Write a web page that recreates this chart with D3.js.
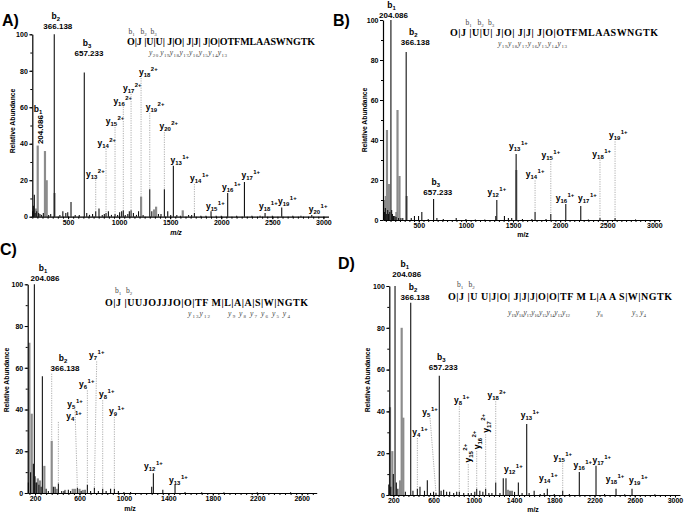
<!DOCTYPE html>
<html><head><meta charset="utf-8">
<script src="https://cdn.jsdelivr.net/npm/d3@7/dist/d3.min.js"></script>
<style>
body{margin:0;background:#fff}
svg{display:block}
.tick text{font-family:'Liberation Sans',Arial,sans-serif;font-weight:bold;font-size:7px}
</style>
</head><body>
<svg id="c" width="685" height="513"></svg>
<script>
// ---------------- DATA ----------------
const panelLabels = ["A)", "B)", "C)", "D)"];
const yTicks = [0, 20, 40, 60, 80, 100];
const xTicksAB = [500, 1000, 1500, 2000, 2500, 3000];
const xTicksC = [200, 600, 1000, 1400, 1800, 2200, 2600];
const xTicksD = [200, 600, 1000, 1400, 1800, 2200, 2600, 3000];
const yTitle = "Relative Abundance";
const xTitle = "m/z";

// sequences
const seqA = "O|J |U|U| J|O| J|J| J|O|OTFMLAASWNGTK";
const seqB = "O|J |U|U| J|O| J|J| J|O|OTFMLAASWNGTK";
const seqC = "O|J |UUJOJJJO|O|TF M|L|A|A|S|W|NGTK";
const seqD = "O|J |U U|J|O| J|J|J|O|O|TF M L|A A S|W|NGTK";
const seqBionsA = ["1", "2", "3"];
const seqBionsB = ["1", "2", "3"];
const seqBionsC = ["1", "2"];
const seqBionsD = ["1", "2"];
const seqYionsA = ["y20 y19y18y17y16y15y14y13"];
const seqYionsB = ["y19y18y17y16y15y14y13"];
const seqYionsC = ["y13y12", "y9 y8 y7 y6 y5 y4"];
const seqYionsD = ["y19y18y17y16y15y14y13y12", "y8", "y5 y4"];

// peaks [m/z, relative abundance]
const grayA = [[186,4.5],[203,39],[274,36],[291,20],[368,13],[1215,11],[1342,4],[1362,5.5],[1623,3.5]];
const blackA = [[155,3],[160,6],[170,12],[178,2],[193,3],[212,2],[225,1.5],[240,1],[258,2],[310,1],[330,1.5],[365,100],[420,1],[449,3],[478,2],[497,2.5],[529,8],[570,1],[610,1],[659,79],[683,2],[710,1],[740,1.5],[771,3],[803,4.5],[835,1],[855,1.5],[872,2],[895,3],[925,1],[960,1.5],[985,1],[1005,2.5],[1025,3],[1041,3.5],[1060,1],[1085,1.5],[1100,3],[1117,3.5],[1140,2],[1170,1],[1190,3],[1235,1],[1300,15],[1320,3],[1385,1.5],[1410,1.5],[1443,15],[1476,3],[1505,1],[1531,28],[1565,1],[1600,0.5],[1680,1],[1710,1],[1737,2],[1800,0.5],[1850,0.5],[1900,3],[1950,0.5],[2000,0.5],[2063,13],[2150,0.5],[2227,19],[2300,0.5],[2380,0.5],[2429,2],[2500,0.5],[2592,5],[2700,0.5],[2780,0.5],[2886,1]];

const grayB = [[140,10],[150,12],[162,45],[183,18],[262,4],[274,55],[295,22],[372,12],[1535,25]];
const blackB = [[135,4],[145,6],[155,3],[170,5],[178,3],[192,4],[204,100],[212,5],[220,3],[232,2],[245,2],[258,1.5],[285,1],[310,1],[330,1],[366,84],[420,1],[454,2],[497,2],[532,4],[600,0.5],[657,10.5],[692,1],[760,0.5],[897,1],[1000,0.5],[1100,0.3],[1200,0.3],[1317,2],[1328,10],[1409,2],[1451,1],[1486,1],[1533,33],[1600,0.5],[1700,0.5],[1734,4],[1850,0.5],[1901,3],[2060,8],[2219,7],[2300,0.3],[2423,1],[2583,1],[2800,0.3]];

const grayC = [[149,72],[170,38],[209,5],[225,7],[245,6],[284,13],[350,25],[395,2],[470,1.5],[540,2],[560,2],[600,2],[630,1.5]];
const blackC = [[140,5],[160,10],[185,14],[194,100],[200,8],[215,5],[235,4],[255,3],[266,56],[300,2],[320,1],[365,3],[380,3],[410,4.5],[440,1],[460,1],[500,1.5],[520,1],[581,2.5],[615,1],[650,1.5],[671,4],[700,1],[734,2.5],[770,1],[809,2],[840,1],[880,2],[914,2],[950,1],[1000,0.5],[1060,0.5],[1250,3],[1265,9.5],[1350,1.5],[1460,4],[1550,0.5],[1700,0.3],[1900,0.3],[2200,0.3],[2500,0.3]];

const grayD = [[167,42],[190,21],[267,7],[283,80],[299,37],[1340,2.5]];
const blackD = [[155,5],[175,4],[200,10],[217,100],[230,6],[245,3],[320,1.5],[373,92],[395,2],[439,3],[465,4],[510,2],[538,7],[570,1],[600,1.5],[624,1],[657,57],[675,2],[700,2.5],[730,1.5],[760,1.5],[800,1],[830,1.5],[856,1.5],[900,1],[945,1],[975,1],[1010,1.5],[1029,3],[1060,2],[1090,1.5],[1118,3],[1150,1],[1180,1],[1218,6],[1260,1],[1293,8],[1320,8],[1360,2],[1380,2],[1405,1.5],[1443,6],[1480,1],[1526,34],[1550,1],[1600,2],[1660,0.5],[1700,1],[1731,3],[1800,0.5],[1884,2],[1950,0.5],[2049,11],[2215,14],[2300,0.5],[2414,3],[2500,0.3],[2573,3],[2800,0.3]];

// fragment annotations: ion, index, charge / mass, peak m/z, label m/z, label abundance
const annA = [
 {t:"b",n:"1",m:"204.086",mz:203,lx:225,ly:57.6,rot:true},
 {t:"b",n:"2",m:"366.138",mz:365,lx:400,ly:108.5},
 {t:"b",n:"3",m:"657.233",mz:659,lx:705,ly:93.6},
 {t:"y",n:"13",z:"2+",mz:771,lx:767,ly:22,dot:true},
 {t:"y",n:"14",z:"2+",mz:872,lx:879,ly:39,dot:true},
 {t:"y",n:"15",z:"2+",mz:960,lx:960,ly:50.8,dot:true},
 {t:"y",n:"16",z:"2+",mz:1041,lx:1035,ly:62,dot:true},
 {t:"y",n:"17",z:"2+",mz:1117,lx:1129,ly:69,dot:true},
 {t:"y",n:"18",z:"2+",mz:1215,lx:1286,ly:77.7,dot:true},
 {t:"y",n:"19",z:"2+",mz:1300,lx:1352,ly:58.5,dot:true},
 {t:"y",n:"20",z:"2+",mz:1443,lx:1486,ly:48,dot:true},
 {t:"y",n:"13",z:"1+",mz:1531,lx:1594,ly:29.6},
 {t:"y",n:"14",z:"1+",mz:1737,lx:1786,ly:19.6,dot:true},
 {t:"y",n:"15",z:"1+",mz:1900,lx:1942,ly:4},
 {t:"y",n:"16",z:"1+",mz:2063,lx:2099,ly:14.5},
 {t:"y",n:"17",z:"1+",mz:2227,lx:2289,ly:21},
 {t:"y",n:"18",z:"1+",mz:2429,lx:2461,ly:4},
 {t:"y",n:"19",z:"1+",mz:2592,lx:2647,ly:6.8},
 {t:"y",n:"20",z:"1+",mz:2886,lx:2948,ly:2.5}
];
const annB = [
 {t:"b",n:"1",m:"204.086",mz:204,lx:232,ly:106},
 {t:"b",n:"2",m:"366.138",mz:366,lx:462,ly:92.5},
 {t:"b",n:"3",m:"657.233",mz:657,lx:702,ly:17.5},
 {t:"y",n:"12",z:"1+",mz:1328,lx:1328,ly:12.5},
 {t:"y",n:"13",z:"1+",mz:1533,lx:1557,ly:35.5},
 {t:"y",n:"14",z:"1+",mz:1734,lx:1734,ly:21.3,dot:true},
 {t:"y",n:"15",z:"1+",mz:1901,lx:1901,ly:30.8,dot:true},
 {t:"y",n:"16",z:"1+",mz:2060,lx:2052,ly:9.5},
 {t:"y",n:"17",z:"1+",mz:2219,lx:2289,ly:9.5},
 {t:"y",n:"18",z:"1+",mz:2423,lx:2441,ly:31.7,dot:true},
 {t:"y",n:"19",z:"1+",mz:2583,lx:2617,ly:40.8,dot:true}
];
const annC = [
 {t:"b",n:"1",m:"204.086",mz:194,lx:290,ly:106.5},
 {t:"b",n:"2",m:"366.138",mz:350,lx:470,ly:63.4,dot:true},
 {t:"y",n:"4",z:"1+",mz:410,lx:551,ly:35.5,dot:true},
 {t:"y",n:"5",z:"1+",mz:581,lx:560,ly:41.4,dot:true,slant:true},
 {t:"y",n:"6",z:"1+",mz:671,lx:665,ly:50.6,dot:true},
 {t:"y",n:"7",z:"1+",mz:734,lx:755,ly:64.5,dot:true,slant:true},
 {t:"y",n:"8",z:"1+",mz:809,lx:845,ly:45.9,dot:true},
 {t:"y",n:"9",z:"1+",mz:914,lx:935,ly:37.9,dot:true},
 {t:"y",n:"12",z:"1+",mz:1265,lx:1265,ly:11.5},
 {t:"y",n:"13",z:"1+",mz:1460,lx:1490,ly:5}
];
const annD = [
 {t:"b",n:"1",m:"204.086",mz:217,lx:333,ly:108.9},
 {t:"b",n:"2",m:"366.138",mz:373,lx:416,ly:98},
 {t:"b",n:"3",m:"657.233",mz:657,lx:697,ly:64.6},
 {t:"y",n:"4",z:"1+",mz:439,lx:465,ly:28.7,dot:true},
 {t:"y",n:"5",z:"1+",mz:624,lx:565,ly:38.3,dot:true,slant:true},
 {t:"y",n:"8",z:"1+",mz:856,lx:880,ly:43.9,dot:true},
 {t:"y",n:"15",z:"2+",mz:945,lx:945,ly:20,dot:true,rot:true},
 {t:"y",n:"16",z:"2+",mz:1029,lx:1029,ly:26.3,dot:true,rot:true},
 {t:"y",n:"17",z:"2+",mz:1118,lx:1118,ly:34.3,dot:true,rot:true},
 {t:"y",n:"18",z:"2+",mz:1218,lx:1228,ly:46.3,dot:true},
 {t:"y",n:"12",z:"1+",mz:1320,lx:1393,ly:11.2},
 {t:"y",n:"13",z:"1+",mz:1526,lx:1559,ly:36.7},
 {t:"y",n:"14",z:"1+",mz:1731,lx:1741,ly:6.7},
 {t:"y",n:"15",z:"1+",mz:1884,lx:1884,ly:16.7,dot:true},
 {t:"y",n:"16",z:"1+",mz:2049,lx:2083,ly:12.8},
 {t:"y",n:"17",z:"1+",mz:2215,lx:2272,ly:15.5},
 {t:"y",n:"18",z:"1+",mz:2414,lx:2404,ly:6.4},
 {t:"y",n:"19",z:"1+",mz:2573,lx:2636,ly:5.9}
];

// ---------------- DRAWING ----------------
const SANS = "'Liberation Sans', Arial, sans-serif";
const SERIF = "'Liberation Serif', 'Times New Roman', serif";
const svg = d3.select("#c");

const panels = [
 {lab:panelLabels[0], labPos:[2,26], gray:grayA, black:blackA, ann:annA, xd:[150,3050], xr:[32.3,328.5], yr:[216.7,34.3], xt:xTicksAB, minor:50,
  yTitle:[13,121], xTitlePos:[176,235], italic:true,
  seq:{s:seqA, x0:127, x1:315, y:45, fs:10, b:seqBionsA, bx:[131.5,143.5,153.5], by:34, yi:seqYionsA, yr:[[149,227]], yy:55}},
 {lab:panelLabels[1], labPos:[333,26], gray:grayB, black:blackB, ann:annB, xd:[120,3060], xr:[383,660], yr:[220,20], xt:xTicksAB, minor:50,
  yTitle:[365,120], xTitlePos:[523,237], italic:false,
  seq:{s:seqB, x0:450, x1:658, y:36, fs:10, b:seqBionsB, bx:[468.5,480.5,491], by:25, yi:seqYionsB, yr:[[498,567]], yy:46}},
 {lab:panelLabels[2], labPos:[0,255], gray:grayC, black:blackC, ann:annC, xd:[134,2735], xr:[27.7,316.7], yr:[493,284.3], xt:xTicksC, minor:50,
  yTitle:[7,380], xTitlePos:[130,510.5], italic:false,
  seq:{s:seqC, x0:105, x1:308, y:306, fs:10, b:seqBionsC, bx:[118,129], by:293, yi:seqYionsC, yr:[[188,210],[228,290]], yy:316}},
 {lab:panelLabels[3], labPos:[338,269], gray:grayD, black:blackD, ann:annD, xd:[160,3050], xr:[389.3,680], yr:[495,286], xt:xTicksD, minor:50,
  yTitle:[368,380], xTitlePos:[533,511.5], italic:false,
  seq:{s:seqD, x0:448, x1:672, y:300, fs:10, b:seqBionsD, bx:[460,471.5], by:287, yi:seqYionsD, yr:[[508,570],[597,604],[632,646]], yy:315}}
];

function ionText(sel, a, fs) {
  sel.append("tspan").text(a.t);
  sel.append("tspan").attr("dy", 2).attr("font-size", fs*0.7).text(a.n);
  if (a.z) sel.append("tspan").attr("dy", -6).attr("dx", 0.5).attr("font-size", fs*0.7).text(a.z);
}

panels.forEach(p => {
  const g = svg.append("g");
  const x = d3.scaleLinear().domain(p.xd).range(p.xr);
  const y = d3.scaleLinear().domain([0,100]).range(p.yr);
  const all = p.gray.concat(p.black);
  const nearest = mz => all.reduce((b, d) => Math.abs(d[0]-mz) < Math.abs(b[0]-mz) ? d : b);

  // panel label
  g.append("text").attr("x", p.labPos[0]).attr("y", p.labPos[1])
    .attr("font-family", SANS).attr("font-weight","bold").attr("font-size",16).text(p.lab);

  // peaks
  g.selectAll(".gp").data(p.gray).join("line")
    .attr("x1", d=>x(d[0])).attr("x2", d=>x(d[0])).attr("y1", y(0)).attr("y2", d=>y(d[1]))
    .attr("stroke","#8c8c8c").attr("stroke-width",2.2);
  g.selectAll(".bp").data(p.black).join("line")
    .attr("x1", d=>x(d[0])).attr("x2", d=>x(d[0])).attr("y1", y(0)).attr("y2", d=>y(d[1]))
    .attr("stroke","#111").attr("stroke-width",1.1);

  // axes
  const minorVals = d3.range(Math.ceil(p.xd[0]/p.minor)*p.minor, p.xd[1], p.minor);
  g.append("g").attr("transform",`translate(0,${y(0)})`)
    .call(d3.axisBottom(x).tickValues(minorVals).tickSize(2).tickFormat(""))
    .call(s=>s.select(".domain").remove());
  g.append("g").attr("transform",`translate(0,${y(0)})`)
    .call(d3.axisBottom(x).tickValues(p.xt).tickSize(2.5).tickSizeOuter(0).tickPadding(1).tickFormat(d3.format("d")))
    .call(s=>s.select(".domain").attr("stroke-width",1.2));
  g.append("g").attr("transform",`translate(${p.xr[0]},0)`)
    .call(d3.axisLeft(y).tickValues(d3.range(0,101,10)).tickSize(2).tickFormat(""))
    .call(s=>s.select(".domain").remove());
  g.append("g").attr("transform",`translate(${p.xr[0]},0)`)
    .call(d3.axisLeft(y).tickValues(yTicks).tickSize(3).tickSizeOuter(0).tickPadding(1.5))
    .call(s=>s.select(".domain").attr("stroke-width",1.2));

  // axis titles
  g.append("text").attr("transform",`translate(${p.yTitle[0]},${p.yTitle[1]}) rotate(-90)`)
    .attr("text-anchor","middle").attr("dy","0.35em")
    .attr("font-family",SANS).attr("font-weight","bold").attr("font-size",6.8).text(yTitle);
  g.append("text").attr("x",p.xTitlePos[0]).attr("y",p.xTitlePos[1]).attr("text-anchor","middle")
    .attr("font-family",SANS).attr("font-weight","bold").attr("font-size",7)
    .attr("font-style", p.italic ? "italic" : "normal").text(xTitle);

  // annotations
  const FS = 8.5, MS = 8;
  p.ann.forEach(a => {
    const pk = nearest(a.mz);
    const px = x(pk[0]), py = y(pk[1]);
    const lx = x(a.lx), ly = y(a.ly);
    const dot = (x1,y1,x2,y2) => g.append("line").attr("x1",x1).attr("y1",y1).attr("x2",x2).attr("y2",y2)
        .attr("stroke","#999").attr("stroke-width",0.8).attr("stroke-dasharray","1.2,1.2");
    if (a.t === "b") {
      const t = g.append("text").attr("x", lx - 2).attr("y", ly).attr("text-anchor","middle")
        .attr("font-family",SANS).attr("font-weight","bold").attr("font-size",FS);
      ionText(t, a, FS);
      if (a.rot) {
        g.append("text").attr("transform",`translate(${lx+3},${ly+18}) rotate(-90)`).attr("text-anchor","middle")
          .attr("font-family",SANS).attr("font-weight","bold").attr("font-size",MS).text(a.m);
      } else {
        g.append("text").attr("x", lx).attr("y", ly+10).attr("text-anchor","middle")
          .attr("font-family",SANS).attr("font-weight","bold").attr("font-size",MS).text(a.m);
        if (a.dot) dot(px, ly+13, px, py);
      }
    } else if (a.rot) {
      const t = g.append("text").attr("transform",`translate(${lx+3},${ly}) rotate(-90)`).attr("text-anchor","middle")
        .attr("font-family",SANS).attr("font-weight","bold").attr("font-size",FS);
      ionText(t, a, FS);
      if (a.dot) dot(px, ly+11, px, py);
    } else {
      const t = g.append("text").attr("x", lx).attr("y", ly).attr("text-anchor","middle")
        .attr("font-family",SANS).attr("font-weight","bold").attr("font-size",FS);
      ionText(t, a, FS);
      if (a.dot) dot(a.slant ? lx : px, ly+3, px, py);
    }
  });

  // sequence
  const s = p.seq;
  g.append("text").attr("x", s.x0).attr("y", s.y).attr("textLength", s.x1 - s.x0).attr("lengthAdjust","spacing")
    .attr("font-family",SERIF).attr("font-weight","bold").attr("font-size",s.fs)
    .style("white-space","pre").text(s.s);
  s.b.forEach((n,i) => {
    const t = g.append("text").attr("x", s.bx[i]).attr("y", s.by).attr("text-anchor","middle")
      .attr("font-family",SERIF).attr("font-size",7.5).attr("fill","#444");
    t.append("tspan").text("b");
    t.append("tspan").attr("dy",1.5).attr("font-size",5).text(n);
  });
  s.yi.forEach((grp,i) => {
    const t = g.append("text").attr("x", s.yr[i][0]).attr("y", s.yy)
      .attr("font-family",SERIF).attr("font-style","italic").attr("font-size",7.5).attr("fill","#444")
      .style("white-space","pre");
    if (s.yr[i][1] - s.yr[i][0] > 10) t.attr("textLength", s.yr[i][1]-s.yr[i][0]).attr("lengthAdjust","spacing");
    const re = /y(\d+)(\s*)/g; let m, first = true;
    while ((m = re.exec(grp)) !== null) {
      t.append("tspan").attr("dy", first ? 0 : -1.5).text("y");
      t.append("tspan").attr("dy",1.5).attr("font-size",5).attr("font-style","normal").text(m[1] + m[2]);
      first = false;
    }
  });
});
</script>
</body></html>
